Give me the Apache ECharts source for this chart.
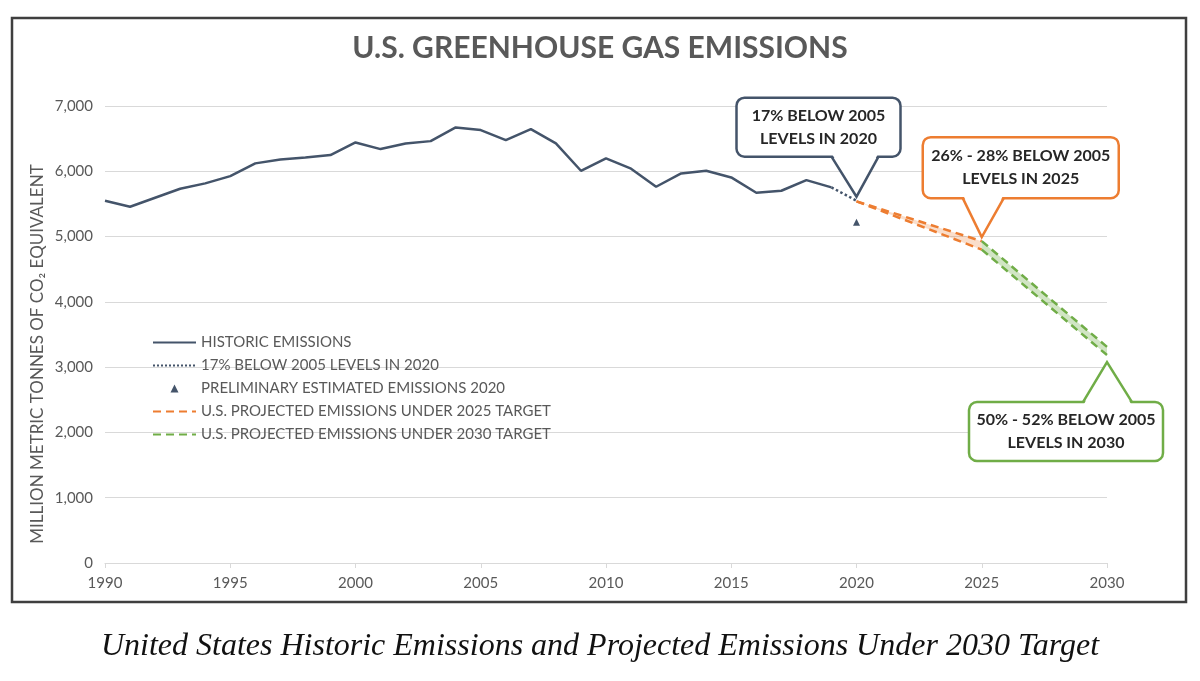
<!DOCTYPE html>
<html>
<head>
<meta charset="utf-8">
<title>U.S. Greenhouse Gas Emissions</title>
<script src="https://cdn.jsdelivr.net/npm/echarts@6/dist/echarts.min.js"></script>
<style>
  html, body { margin: 0; padding: 0; background: #fff; }
  #chart { width: 1200px; height: 681px; }
</style>
</head>
<body>
<div id="chart"></div>
<script>
// historic inventory (million tonnes CO2e)
const histYears = [1990, 1991, 1992, 1993, 1994, 1995, 1996, 1997, 1998, 1999,
  2000, 2001, 2002, 2003, 2004, 2005, 2006, 2007, 2008, 2009,
  2010, 2011, 2012, 2013, 2014, 2015, 2016, 2017, 2018, 2019];
const histValues = [5548, 5456, 5594, 5732, 5815, 5926, 6121, 6182, 6212, 6248,
  6442, 6340, 6427, 6462, 6672, 6631, 6478, 6646, 6427, 6008,
  6197, 6040, 5763, 5967, 6008, 5906, 5671, 5702, 5865, 5753];

// 17% below 2005 in 2020 (dotted)
const target2020Years = [2019, 2020];
const target2020Values = [5753, 5550];

// preliminary estimate 2020 (triangle)
const prelimYears = [2020];
const prelimValues = [5220];

// projection bands
const proj2025Years = [2020, 2025];
const proj2025High = [5540, 4930];
const proj2025Low = [5540, 4800];
const proj2030Years = [2025, 2030];
const proj2030High = [4930, 3310];
const proj2030Low = [4800, 3185];

const names = [
  'HISTORIC EMISSIONS',
  '17% BELOW 2005 LEVELS IN 2020',
  'PRELIMINARY ESTIMATED EMISSIONS 2020',
  'U.S. PROJECTED EMISSIONS UNDER 2025 TARGET',
  'U.S. PROJECTED EMISSIONS UNDER 2030 TARGET'
];

const navy = '#44546a';
const orange = '#ed7d31';
const green = '#70ad47';
const fontFamily = 'Lato, "Open Sans", sans-serif';

function pairs(xs, ys) {
  return xs.map((x, i) => [x, ys[i]]);
}

// shaded area between the high and low edge of a projection
function band(years, high, low, fill) {
  return {
    type: 'custom',
    silent: true,
    data: [[years[0], years[1], high[0], high[1], low[0], low[1]]],
    encode: { x: [0, 1], y: [2, 3, 4, 5] },
    renderItem: function (params, api) {
      const pts = [
        api.coord([api.value(0), api.value(2)]),
        api.coord([api.value(1), api.value(3)]),
        api.coord([api.value(1), api.value(5)]),
        api.coord([api.value(0), api.value(4)])
      ];
      return { type: 'polygon', shape: { points: pts }, style: { fill: fill } };
    }
  };
}

function dashed(name, years, values, color) {
  return {
    name: name,
    type: 'line',
    symbol: 'none',
    data: pairs(years, values),
    lineStyle: { color: color, width: 2.5, type: [8, 5] },
    itemStyle: { color: color }
  };
}

const chart = echarts.init(document.getElementById('chart'));

chart.setOption({
  animation: false,
  backgroundColor: '#fff',
  textStyle: { fontFamily: fontFamily },
  title: [{
    text: 'U.S. GREENHOUSE GAS EMISSIONS',
    left: 'center',
    top: 28,
    textStyle: { fontSize: 30, fontWeight: 'bold', color: '#595959', fontFamily: fontFamily }
  }, {
    text: 'United States Historic Emissions and Projected Emissions Under 2030 Target',
    left: 'center',
    top: 626,
    textStyle: { fontSize: 32, fontWeight: 'normal', fontStyle: 'italic', color: '#111', fontFamily: '"Liberation Serif", serif' }
  }],
  legend: {
    orient: 'vertical',
    left: 147,
    top: 330,
    itemWidth: 43,
    itemHeight: 10,
    itemGap: 8,
    textStyle: { fontSize: 15, color: '#595959' },
    data: [
      { name: names[0], itemStyle: { opacity: 0 } },
      { name: names[1], itemStyle: { opacity: 0 } },
      { name: names[2] },
      { name: names[3], itemStyle: { opacity: 0 } },
      { name: names[4], itemStyle: { opacity: 0 } }
    ]
  },
  grid: { left: 105, right: 93, top: 106, bottom: 118 },
  xAxis: {
    type: 'value',
    min: 1990,
    max: 2030,
    interval: 5,
    axisLine: { lineStyle: { color: '#d9d9d9', width: 1.2 } },
    axisTick: { show: true, length: 5, lineStyle: { color: '#d9d9d9' } },
    splitLine: { show: false },
    axisLabel: { color: '#595959', fontSize: 15, margin: 13, formatter: v => String(v) }
  },
  yAxis: {
    type: 'value',
    min: 0,
    max: 7000,
    interval: 1000,
    axisLine: { show: false },
    axisTick: { show: false },
    splitLine: { lineStyle: { color: '#d9d9d9', width: 1.2 } },
    axisLabel: { color: '#595959', fontSize: 15, margin: 12 }
  },
  series: [
    band(proj2025Years, proj2025High, proj2025Low, 'rgba(237,125,49,0.25)'),
    band(proj2030Years, proj2030High, proj2030Low, 'rgba(112,173,71,0.32)'),
    {
      name: names[0],
      type: 'line',
      symbol: 'none',
      data: pairs(histYears, histValues),
      lineStyle: { color: navy, width: 2.5 },
      itemStyle: { color: navy }
    }, {
      name: names[1],
      type: 'line',
      symbol: 'none',
      data: pairs(target2020Years, target2020Values),
      lineStyle: { color: navy, width: 2.5, type: 'dotted' },
      itemStyle: { color: navy }
    }, {
      name: names[2],
      type: 'line',
      symbol: 'triangle',
      symbolSize: 7,
      data: pairs(prelimYears, prelimValues),
      lineStyle: { width: 0, opacity: 0 },
      itemStyle: { color: navy }
    },
    dashed(names[3], proj2025Years, proj2025Low, orange),
    dashed(names[3], proj2025Years, proj2025High, orange),
    dashed(names[4], proj2030Years, proj2030Low, green),
    dashed(names[4], proj2030Years, proj2030High, green)
  ]
});

// speech-bubble callout pointing at a data point
function callout(tip, box, color, text) {
  const left = tip[0] + box.dx;
  const top = tip[1] + box.dy;
  const baseY = box.dy < 0 ? top + box.h : top;
  const inset = box.dy < 0 ? -2 : 2;
  const bl = tip[0] + box.bl;
  const br = tip[0] + box.br;
  return [{
    type: 'rect',
    z: 100,
    shape: { x: left, y: top, width: box.w, height: box.h, r: 8 },
    style: { fill: '#fff', stroke: color, lineWidth: 2.5 }
  }, {
    type: 'polygon',
    z: 101,
    shape: { points: [[bl + 1, baseY + inset], [br - 1, baseY + inset], tip] },
    style: { fill: '#fff' }
  }, {
    type: 'polyline',
    z: 102,
    shape: { points: [[bl, baseY], tip, [br, baseY]] },
    style: { fill: null, stroke: color, lineWidth: 2.5 }
  }, {
    type: 'text',
    z: 103,
    x: left + box.w / 2,
    y: top + box.h / 2,
    style: {
      text: text,
      align: 'center',
      verticalAlign: 'middle',
      font: 'bold 16px ' + fontFamily,
      lineHeight: 23,
      fill: '#262626'
    }
  }];
}

const toPx = p => chart.convertToPixel({ xAxisIndex: 0, yAxisIndex: 0 }, p);

const tip2020 = toPx([target2020Years[1], target2020Values[1]]);
const tip2025 = toPx([proj2025Years[1], proj2025High[1]]);
const tip2030 = toPx([proj2030Years[1], proj2030Low[1]]);
tip2020[1] -= 4;
tip2025[1] -= 4;
tip2030[1] += 7;

let graphics = [{
  // outer frame
  type: 'rect',
  silent: true,
  z: 0,
  shape: { x: 12, y: 18, width: 1174, height: 584 },
  style: { fill: null, stroke: '#3f3f3f', lineWidth: 2.5 }
}, {
  type: 'text',
  x: 38,
  y: 354,
  rotation: Math.PI / 2,
  style: {
    text: 'MILLION METRIC TONNES OF CO₂ EQUIVALENT',
    align: 'center',
    verticalAlign: 'middle',
    font: '17px ' + fontFamily,
    fill: '#595959'
  }
}];

graphics = graphics
  .concat(callout(tip2020, { dx: -120, dy: -99, w: 164, h: 59, bl: -25, br: 22 }, navy, '17% BELOW 2005\nLEVELS IN 2020'))
  .concat(callout(tip2025, { dx: -59, dy: -100, w: 196, h: 61, bl: -19, br: 22 }, orange, '26% - 28% BELOW 2005\nLEVELS IN 2025'))
  .concat(callout(tip2030, { dx: -138, dy: 40, w: 194, h: 59, bl: -24, br: 25 }, green, '50% - 52% BELOW 2005\nLEVELS IN 2030'));

chart.setOption({ graphic: graphics });
</script>
</body>
</html>
